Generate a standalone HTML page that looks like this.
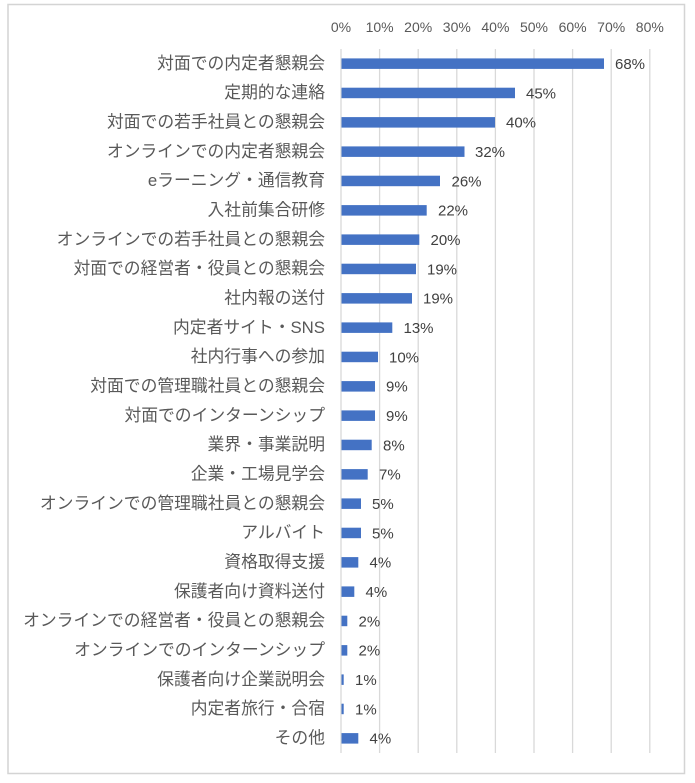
<!DOCTYPE html>
<html><head><meta charset="utf-8"><style>
html,body{margin:0;padding:0;background:#fff;}
svg{display:block;}
.c{font-family:"Liberation Sans","Noto Sans CJK JP",sans-serif;font-size:16.8px;fill:#595959;}
.v{font-family:"Liberation Sans","Noto Sans CJK JP",sans-serif;font-size:15px;fill:#404040;}
.t{font-family:"Liberation Sans","Noto Sans CJK JP",sans-serif;font-size:14px;fill:#595959;}
</style></head><body>
<svg width="695" height="783" viewBox="0 0 695 783" xmlns="http://www.w3.org/2000/svg">
<rect x="0" y="0" width="695" height="783" fill="#fff"/>
<rect x="8" y="4.5" width="676.5" height="769" fill="none" stroke="#d4d4d4" stroke-width="1.5"/>
<g stroke="#d9d9d9" stroke-width="1.3">
<line x1="341" y1="49" x2="341" y2="753"/>
<line x1="379.6" y1="49" x2="379.6" y2="753"/>
<line x1="418.2" y1="49" x2="418.2" y2="753"/>
<line x1="456.8" y1="49" x2="456.8" y2="753"/>
<line x1="495.4" y1="49" x2="495.4" y2="753"/>
<line x1="534" y1="49" x2="534" y2="753"/>
<line x1="572.6" y1="49" x2="572.6" y2="753"/>
<line x1="611.2" y1="49" x2="611.2" y2="753"/>
<line x1="649.8" y1="49" x2="649.8" y2="753"/>
</g>
<g class="t" text-anchor="middle">
<text x="341" y="32">0%</text>
<text x="379.6" y="32">10%</text>
<text x="418.2" y="32">20%</text>
<text x="456.8" y="32">30%</text>
<text x="495.4" y="32">40%</text>
<text x="534" y="32">50%</text>
<text x="572.6" y="32">60%</text>
<text x="611.2" y="32">70%</text>
<text x="649.8" y="32">80%</text>
</g>
<g fill="#4472c4">
<rect x="341.5" y="58.4" width="262.5" height="10.5"/>
<rect x="341.5" y="87.7" width="173.5" height="10.5"/>
<rect x="341.5" y="117.1" width="153.5" height="10.5"/>
<rect x="341.5" y="146.4" width="123" height="10.5"/>
<rect x="341.5" y="175.7" width="98.5" height="10.5"/>
<rect x="341.5" y="205.1" width="85.2" height="10.5"/>
<rect x="341.5" y="234.4" width="77.8" height="10.5"/>
<rect x="341.5" y="263.7" width="74.5" height="10.5"/>
<rect x="341.5" y="293.1" width="70.5" height="10.5"/>
<rect x="341.5" y="322.4" width="50.8" height="10.5"/>
<rect x="341.5" y="351.7" width="36.5" height="10.5"/>
<rect x="341.5" y="381.1" width="33.5" height="10.5"/>
<rect x="341.5" y="410.4" width="33.5" height="10.5"/>
<rect x="341.5" y="439.7" width="30.2" height="10.5"/>
<rect x="341.5" y="469.1" width="26.2" height="10.5"/>
<rect x="341.5" y="498.4" width="19.5" height="10.5"/>
<rect x="341.5" y="527.7" width="19.5" height="10.5"/>
<rect x="341.5" y="557.1" width="16.8" height="10.5"/>
<rect x="341.5" y="586.4" width="12.8" height="10.5"/>
<rect x="341.5" y="615.7" width="5.8" height="10.5"/>
<rect x="341.5" y="645.1" width="5.8" height="10.5"/>
<rect x="341.5" y="674.4" width="2.2" height="10.5"/>
<rect x="341.5" y="703.7" width="2.2" height="10.5"/>
<rect x="341.5" y="733.1" width="16.8" height="10.5"/>
</g>
<g class="v">
<text x="615" y="69">68%</text>
<text x="526" y="98.3">45%</text>
<text x="506" y="127.7">40%</text>
<text x="475" y="157">32%</text>
<text x="451.5" y="186.3">26%</text>
<text x="438" y="215.7">22%</text>
<text x="430.5" y="245">20%</text>
<text x="427" y="274.3">19%</text>
<text x="423" y="303.7">19%</text>
<text x="403.5" y="333">13%</text>
<text x="389" y="362.3">10%</text>
<text x="386" y="391.7">9%</text>
<text x="386" y="421">9%</text>
<text x="383" y="450.3">8%</text>
<text x="379" y="479.7">7%</text>
<text x="372" y="509">5%</text>
<text x="372" y="538.3">5%</text>
<text x="369.5" y="567.7">4%</text>
<text x="365.5" y="597">4%</text>
<text x="358.5" y="626.3">2%</text>
<text x="358.5" y="655.7">2%</text>
<text x="355" y="685">1%</text>
<text x="355" y="714.3">1%</text>
<text x="369.5" y="743.7">4%</text>
</g>
<g class="c" text-anchor="end">
<text x="325" y="68.9">対面での内定者懇親会</text>
<text x="325" y="98.2">定期的な連絡</text>
<text x="325" y="127.5">対面での若手社員との懇親会</text>
<text x="325" y="156.9">オンラインでの内定者懇親会</text>
<text x="325" y="186.2">eラーニング・通信教育</text>
<text x="325" y="215.5">入社前集合研修</text>
<text x="325" y="244.9">オンラインでの若手社員との懇親会</text>
<text x="325" y="274.2">対面での経営者・役員との懇親会</text>
<text x="325" y="303.5">社内報の送付</text>
<text x="325" y="332.9">内定者サイト・SNS</text>
<text x="325" y="362.2">社内行事への参加</text>
<text x="325" y="391.5">対面での管理職社員との懇親会</text>
<text x="325" y="420.9">対面でのインターンシップ</text>
<text x="325" y="450.2">業界・事業説明</text>
<text x="325" y="479.5">企業・工場見学会</text>
<text x="325" y="508.9">オンラインでの管理職社員との懇親会</text>
<text x="325" y="538.2">アルバイト</text>
<text x="325" y="567.5">資格取得支援</text>
<text x="325" y="596.9">保護者向け資料送付</text>
<text x="325" y="626.2">オンラインでの経営者・役員との懇親会</text>
<text x="325" y="655.5">オンラインでのインターンシップ</text>
<text x="325" y="684.9">保護者向け企業説明会</text>
<text x="325" y="714.2">内定者旅行・合宿</text>
<text x="325" y="743.5">その他</text>
</g>
</svg>
</body></html>
